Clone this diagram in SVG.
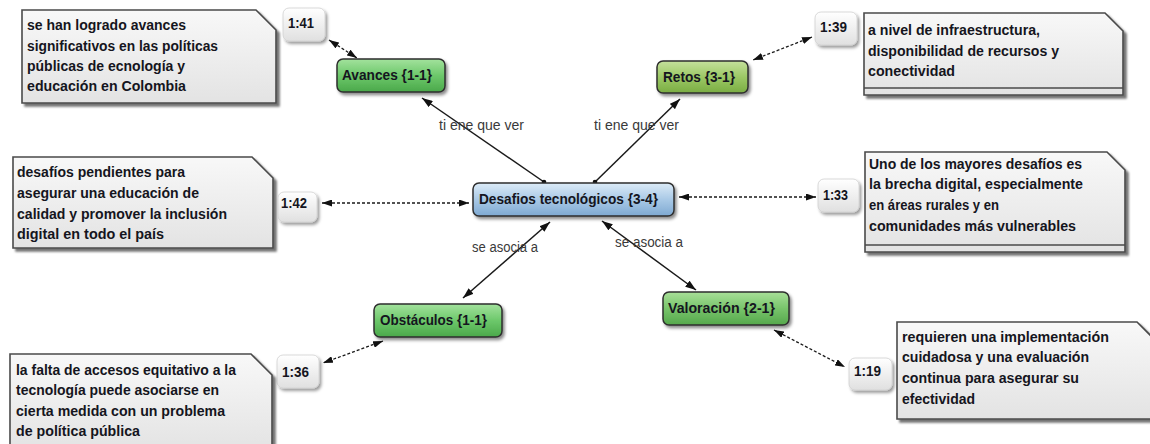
<svg xmlns="http://www.w3.org/2000/svg" width="1150" height="444" viewBox="0 0 1150 444">
<style>
.note{fill:url(#gNote);stroke:#4a4a4a;stroke-width:1.6;filter:url(#shNote)}
.sep{stroke:#4a4a4a;stroke-width:1.4}
.badge{fill:url(#gBadge);stroke:#d0d0d0;stroke-width:0.8;filter:url(#shBadge)}
.node{stroke:#2e2e2e;stroke-width:1.5;filter:url(#shNode)}
.t{font-family:"Liberation Sans",Arial,sans-serif;font-weight:bold;font-size:14.5px;fill:#151520}
.nt{font-family:"Liberation Sans",Arial,sans-serif;font-weight:bold;font-size:15px;fill:#151520}
.lbl{font-family:"Liberation Sans",Arial,sans-serif;font-size:14px;fill:#3a3a3a}
.solid{stroke:#1a1a1a;stroke-width:1.5;fill:none}
.dash{stroke:#1a1a1a;stroke-width:1.3;stroke-dasharray:3 2;fill:none}
</style>
<defs>
<linearGradient id="gNote" x1="0" y1="0" x2="0" y2="1"><stop offset="0" stop-color="#f8f8f8"/><stop offset="1" stop-color="#e3e3e3"/></linearGradient>
<linearGradient id="gBadge" x1="0" y1="0" x2="0" y2="1"><stop offset="0" stop-color="#ffffff"/><stop offset="1" stop-color="#e0e0e0"/></linearGradient>
<linearGradient id="gGreen" x1="0" y1="0" x2="0" y2="1"><stop offset="0" stop-color="#a3e29d"/><stop offset="0.5" stop-color="#6dc86b"/><stop offset="1" stop-color="#4aa84a"/></linearGradient>
<linearGradient id="gGreen2" x1="0" y1="0" x2="0" y2="1"><stop offset="0" stop-color="#a8df98"/><stop offset="0.5" stop-color="#78c46b"/><stop offset="1" stop-color="#55a84c"/></linearGradient>
<linearGradient id="gOlive" x1="0" y1="0" x2="0" y2="1"><stop offset="0" stop-color="#c5e09c"/><stop offset="0.5" stop-color="#9cc865"/><stop offset="1" stop-color="#7aad43"/></linearGradient>
<linearGradient id="gBlue" x1="0" y1="0" x2="0" y2="1"><stop offset="0" stop-color="#dcebf7"/><stop offset="0.5" stop-color="#a9c9e6"/><stop offset="1" stop-color="#7ea9d2"/></linearGradient>
<filter id="shNote" x="-5%" y="-5%" width="115%" height="120%"><feDropShadow dx="3" dy="3" stdDeviation="1.2" flood-color="#000" flood-opacity="0.55"/></filter>
<filter id="shBadge" x="-20%" y="-20%" width="150%" height="160%"><feDropShadow dx="2" dy="2.5" stdDeviation="1.5" flood-color="#000" flood-opacity="0.4"/></filter>
<filter id="shNode" x="-10%" y="-20%" width="125%" height="160%"><feDropShadow dx="2" dy="2.5" stdDeviation="1.5" flood-color="#000" flood-opacity="0.45"/></filter>
<marker id="ar" viewBox="0 0 10 7" refX="10" refY="3.5" markerWidth="11" markerHeight="7.5" markerUnits="userSpaceOnUse" orient="auto-start-reverse"><path d="M0,0 L10,3.5 L0,7 z" fill="#111"/></marker>
<marker id="ad" viewBox="0 0 10 7" refX="10" refY="3.5" markerWidth="10" markerHeight="7" markerUnits="userSpaceOnUse" orient="auto-start-reverse"><path d="M0,0 L10,3.5 L0,7 z" fill="#111"/></marker>
</defs>
<rect width="1150" height="444" fill="#ffffff"/>

<g id="connectors">
<line class="solid" x1="544" y1="182" x2="422" y2="98" marker-end="url(#ar)"/>
<circle cx="544" cy="182" r="2.3" fill="#111"/>
<line class="solid" x1="595" y1="182" x2="680" y2="99" marker-end="url(#ar)"/>
<circle cx="595" cy="182" r="2.3" fill="#111"/>
<line class="solid" x1="550" y1="222" x2="463" y2="298" marker-start="url(#ar)" marker-end="url(#ar)"/>
<line class="solid" x1="602" y1="221" x2="696" y2="290" marker-start="url(#ar)" marker-end="url(#ar)"/>
<line class="dash" x1="329" y1="40" x2="357" y2="58" marker-start="url(#ad)" marker-end="url(#ad)"/>
<line class="dash" x1="812" y1="37" x2="753" y2="60" marker-start="url(#ad)" marker-end="url(#ad)"/>
<line class="dash" x1="322" y1="203" x2="469" y2="203" marker-start="url(#ad)" marker-end="url(#ad)"/>
<line class="dash" x1="679" y1="197" x2="816" y2="197" marker-start="url(#ad)" marker-end="url(#ad)"/>
<line class="dash" x1="383" y1="341" x2="323" y2="363" marker-start="url(#ad)" marker-end="url(#ad)"/>
<line class="dash" x1="774" y1="330" x2="845" y2="367" marker-start="url(#ad)" marker-end="url(#ad)"/>
<text class="lbl" x="439" y="130" textLength="85" lengthAdjust="spacingAndGlyphs">ti ene que ver</text>
<text class="lbl" x="594" y="130" textLength="85" lengthAdjust="spacingAndGlyphs">ti ene que ver</text>
<text class="lbl" x="472" y="252" textLength="66" lengthAdjust="spacingAndGlyphs">se asocia a</text>
<text class="lbl" x="615" y="247" textLength="68" lengthAdjust="spacingAndGlyphs">se asocia a</text>
</g>

<g id="note-141">
<path class="note" d="M22,10 H256 L276,30 V103 H22 Z"/>
<text class="t" x="27" y="30" textLength="159" lengthAdjust="spacingAndGlyphs">se han logrado avances</text>
<text class="t" x="27" y="51" textLength="191" lengthAdjust="spacingAndGlyphs">significativos en las políticas</text>
<text class="t" x="27" y="71" textLength="158" lengthAdjust="spacingAndGlyphs">públicas de ecnología y</text>
<text class="t" x="27" y="91" textLength="159" lengthAdjust="spacingAndGlyphs">educación en Colombia</text>
</g>
<g id="badge-141">
<rect class="badge" x="283" y="8" width="42" height="33" rx="6"/>
<text class="t" x="288" y="28" textLength="26" lengthAdjust="spacingAndGlyphs">1:41</text>
</g>
<g id="node-avances">
<rect class="node" x="337" y="59" width="108" height="33" rx="6" fill="url(#gGreen)"/>
<text class="nt" x="342" y="80" textLength="90" lengthAdjust="spacingAndGlyphs">Avances {1-1}</text>
</g>

<g id="node-retos">
<rect class="node" x="657" y="61" width="91" height="32" rx="6" fill="url(#gOlive)"/>
<text class="nt" x="663" y="82" textLength="72" lengthAdjust="spacingAndGlyphs">Retos {3-1}</text>
</g>
<g id="badge-139">
<rect class="badge" x="815" y="12" width="42" height="33" rx="6"/>
<text class="t" x="820" y="32" textLength="27" lengthAdjust="spacingAndGlyphs">1:39</text>
</g>
<g id="note-139">
<path class="note" d="M864,13 H1105 L1123,31 V95 H864 Z"/>
<line class="sep" x1="864" y1="88" x2="1123" y2="88"/>
<text class="t" x="868" y="35" textLength="172" lengthAdjust="spacingAndGlyphs">a nivel de infraestructura,</text>
<text class="t" x="868" y="56" textLength="191" lengthAdjust="spacingAndGlyphs">disponibilidad de recursos y</text>
<text class="t" x="868" y="76" textLength="87" lengthAdjust="spacingAndGlyphs">conectividad</text>
</g>

<g id="note-142">
<path class="note" d="M13,157 H252 L273,178 V248 H13 Z"/>
<text class="t" x="17" y="177" textLength="168" lengthAdjust="spacingAndGlyphs">desafíos pendientes para</text>
<text class="t" x="17" y="198" textLength="182" lengthAdjust="spacingAndGlyphs">asegurar una educación de</text>
<text class="t" x="17" y="219" textLength="210" lengthAdjust="spacingAndGlyphs">calidad y promover la inclusión</text>
<text class="t" x="17" y="239" textLength="147" lengthAdjust="spacingAndGlyphs">digital en todo el país</text>
</g>
<g id="badge-142">
<rect class="badge" x="278" y="192" width="39" height="30" rx="6"/>
<text class="t" x="281" y="208" textLength="26" lengthAdjust="spacingAndGlyphs">1:42</text>
</g>

<g id="node-desafios">
<rect class="node" x="473" y="183" width="201" height="33" rx="6" fill="url(#gBlue)"/>
<text class="nt" x="479" y="204" textLength="179" lengthAdjust="spacingAndGlyphs">Desafios tecnológicos {3-4}</text>
</g>

<g id="badge-133">
<rect class="badge" x="818" y="179" width="41" height="33" rx="6"/>
<text class="t" x="823" y="200" textLength="25" lengthAdjust="spacingAndGlyphs">1:33</text>
</g>
<g id="note-133">
<path class="note" d="M865,152 H1107 L1125,170 V252 H865 Z"/>
<line class="sep" x1="865" y1="245" x2="1125" y2="245"/>
<text class="t" x="869" y="169" textLength="213" lengthAdjust="spacingAndGlyphs">Uno de los mayores desafíos es</text>
<text class="t" x="869" y="189" textLength="214" lengthAdjust="spacingAndGlyphs">la brecha digital, especialmente</text>
<text class="t" x="869" y="210" textLength="130" lengthAdjust="spacingAndGlyphs">en áreas rurales y en</text>
<text class="t" x="869" y="231" textLength="207" lengthAdjust="spacingAndGlyphs">comunidades más vulnerables</text>
</g>

<g id="node-obstaculos">
<rect class="node" x="374" y="304" width="128" height="33" rx="6" fill="url(#gGreen)"/>
<text class="nt" x="380" y="325" textLength="107" lengthAdjust="spacingAndGlyphs">Obstáculos {1-1}</text>
</g>
<g id="badge-136">
<rect class="badge" x="277" y="355" width="42" height="33" rx="6"/>
<text class="t" x="282" y="377" textLength="27" lengthAdjust="spacingAndGlyphs">1:36</text>
</g>
<g id="note-136">
<path class="note" d="M10,354 H251 L272,375 V452 H10 Z"/>
<text class="t" x="16" y="375" textLength="220" lengthAdjust="spacingAndGlyphs">la falta de accesos equitativo a la</text>
<text class="t" x="16" y="395" textLength="203" lengthAdjust="spacingAndGlyphs">tecnología puede asociarse en</text>
<text class="t" x="16" y="416" textLength="209" lengthAdjust="spacingAndGlyphs">cierta medida con un problema</text>
<text class="t" x="16" y="436" textLength="124" lengthAdjust="spacingAndGlyphs">de política pública</text>
</g>

<g id="node-valoracion">
<rect class="node" x="663" y="292" width="126" height="33" rx="6" fill="url(#gGreen2)"/>
<text class="nt" x="668" y="313" textLength="107" lengthAdjust="spacingAndGlyphs">Valoración {2-1}</text>
</g>
<g id="badge-119">
<rect class="badge" x="849" y="358" width="43" height="32" rx="6"/>
<text class="t" x="854" y="376" textLength="27" lengthAdjust="spacingAndGlyphs">1:19</text>
</g>
<g id="note-119">
<path class="note" d="M897,322 H1137 L1157,342 V419 H897 Z"/>
<text class="t" x="902" y="342" textLength="207" lengthAdjust="spacingAndGlyphs">requieren una implementación</text>
<text class="t" x="902" y="362" textLength="187" lengthAdjust="spacingAndGlyphs">cuidadosa y una evaluación</text>
<text class="t" x="902" y="383" textLength="177" lengthAdjust="spacingAndGlyphs">continua para asegurar su</text>
<text class="t" x="902" y="404" textLength="73" lengthAdjust="spacingAndGlyphs">efectividad</text>
</g>
</svg>
